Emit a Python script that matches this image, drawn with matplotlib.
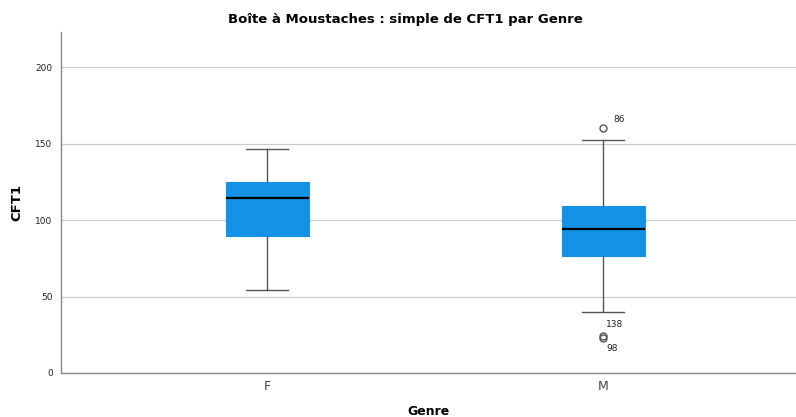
import matplotlib
matplotlib.use("Agg")
import matplotlib.pyplot as plt

categories = ["F", "M"]
q1 = [89.5, 76.5]
median = [114.3, 94.1]
q3 = [124.8, 109.2]
whislo = [54.2, 39.9]
whishi = [146.4, 152.3]
outliers = [[], [160.1, 24.2, 22.8]]
outlier_labels = [[], ["86", "138", "98"]]

fig = plt.figure(figsize=(7.96, 4.17), dpi=100)
ax = fig.add_axes([61/796, 44/417, 1 - 61/796, (373-32)/417])

stats = []
for i, c in enumerate(categories):
    stats.append(dict(label=c, q1=q1[i], med=median[i], q3=q3[i],
                      whislo=whislo[i], whishi=whishi[i], fliers=outliers[i]))

ax.bxp(stats, positions=[0, 1], widths=0.247, patch_artist=True,
       boxprops=dict(facecolor="#1592E6", edgecolor="#1592E6", linewidth=0.8),
       medianprops=dict(color="black", linewidth=1.6),
       whiskerprops=dict(color="#555555", linewidth=1.0),
       capprops=dict(color="#555555", linewidth=1.0),
       capwidths=0.125,
       flierprops=dict(marker="o", markerfacecolor="none", markeredgecolor="#555555",
                       markersize=5, markeredgewidth=1.0))

# outlier labels
offsets = {"86": (0.03, 6), "138": (0.01, 7.5), "98": (0.01, -6.5)}
for i, (vals, labs) in enumerate(zip(outliers, outlier_labels)):
    for v, l in zip(vals, labs):
        dx, dy = offsets.get(l, (0.02, 0))
        ax.text(i + dx, v + dy, l, fontsize=6.5, color="#222222", va="center", ha="left")

ax.set_xlim(-0.613, 1.574)
ax.set_ylim(0, 223)
ax.set_yticks([0, 50, 100, 150, 200])
ax.yaxis.grid(True, color="#cccccc", linewidth=0.9)
ax.set_axisbelow(True)
for s in ["top", "right"]:
    ax.spines[s].set_visible(False)
for s in ["left", "bottom"]:
    ax.spines[s].set_color("#888888")
    ax.spines[s].set_linewidth(1.0)
ax.tick_params(axis="y", labelsize=6.5, length=0, pad=6, labelcolor="#222222")
ax.tick_params(axis="x", labelsize=9, length=0, pad=5, labelcolor="#444444")
ax.set_xticks([0, 1])
ax.set_xticklabels(categories)

ax.set_ylabel("CFT1", fontsize=9.5, fontweight="bold", labelpad=9)
ax.set_xlabel("Genre", fontsize=9, fontweight="bold", labelpad=9)
fig.text(405/796, 1 - 20/417, "Boîte à Moustaches : simple de CFT1 par Genre",
         fontsize=9.5, fontweight="bold", ha="center", va="center")

fig.savefig("out.png", dpi=100)
